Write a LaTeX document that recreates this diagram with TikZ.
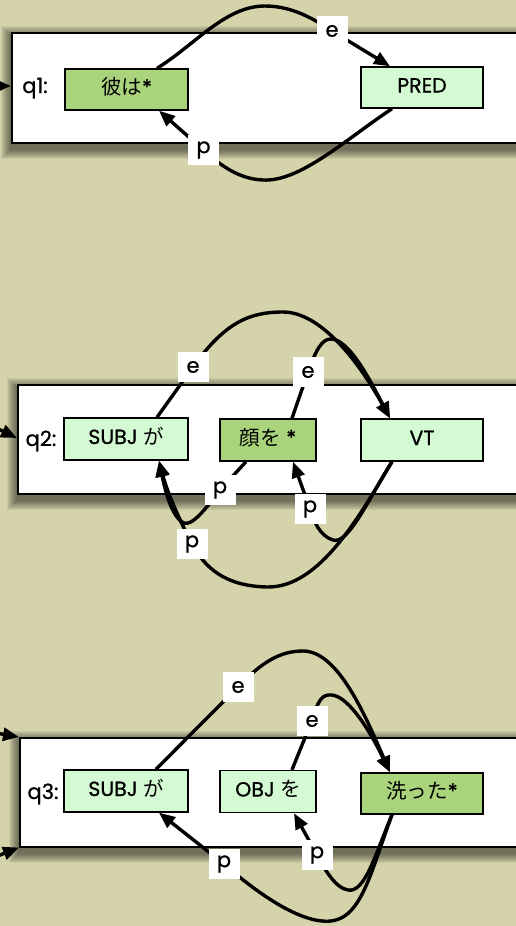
\documentclass[tikz,border=0pt]{standalone}
\usepackage{fontspec}
\setmainfont{Poppins}[FakeBold=0.9]
\newfontfamily\jp{Noto Sans CJK JP}[Scale=1.0]
\usetikzlibrary{arrows.meta,calc}
\definecolor{bg}{RGB}{213,211,170}
\definecolor{lightg}{RGB}{212,250,212}
\definecolor{darkg}{RGB}{169,212,124}
\pgfdeclarelayer{bglayer}
\pgfsetlayers{bglayer,main}
\begin{document}
\begin{tikzpicture}[x=1pt,y=-1pt,
  panel/.style={draw=black, line width=1.5pt, fill=white, rectangle, inner sep=0pt, anchor=north west},
  box/.style={draw=black, line width=1.4pt, rectangle, minimum height=41pt, inner sep=0pt,
    text height=14pt, text depth=4pt, font=\fontsize{20.5}{24}\selectfont},
  lite/.style={box, fill=lightg},
  darkbox/.style={box, fill=darkg},
  lab/.style={fill=white, rectangle, minimum width=31pt, minimum height=30pt, inner sep=0pt,
    font=\fontsize{21}{24}\selectfont},
  qlab/.style={anchor=base, font=\fontsize{21}{24}\selectfont},
  edge/.style={line width=3.4pt, -{Triangle[length=16pt,width=13pt]}},
  shadowlayer/.style={fill=black, opacity=0.06}
]
\useasboundingbox (0,0) rectangle (516,926);
\clip (0,0) rectangle (516,926);

% ---------------- panels ----------------
\node[panel, minimum width=530pt, minimum height=110pt] (pan1) at (11,32) {};
\node[panel, minimum width=530pt, minimum height=109pt] (pan2) at (17,384) {};
\node[panel, minimum width=530pt, minimum height=109pt] (pan3) at (19,737) {};
\begin{pgfonlayer}{bglayer}
\fill[bg] (0,0) rectangle (516,926);
\foreach \p in {pan1,pan2,pan3}{
  \foreach \i in {1,...,10}{
    \fill[shadowlayer] ($(\p.north west)+(-\i,4-\i)$) rectangle ($(\p.south east)+(\i,5+\i)$);
  }
}
\end{pgfonlayer}

% ---------------- panel 1 ----------------
\node[qlab] (q1) at (35,93) {q1:};
\node[darkbox, minimum width=123pt] (A1) at (126.5,89.5) {{\jp 彼は}*};
\node[lite, minimum width=122pt] (B1) at (422,87.5) {PRED};
\coordinate (in1) at (-10,86);
\draw[edge] (in1) -- ($(pan1.north west)+(0,54)$);
\coordinate (e1c) at (332,31);
\coordinate (p1c) at (203.5,150);
\draw[edge] ($(A1.north)+(30.5,0)$) .. controls (195,45) and (225,6) .. (265,6)
  .. controls (295,6) and (318,22) .. (e1c) -- ($(B1.north)+(-32,0)$);
\draw[edge] ($(B1.south)+(-30,0)$) .. controls (345,140) and (300,182) .. (263,180)
  .. controls (235,179) and (215,160) .. (p1c) -- ($(A1.south)+(32.5,0)$);
\node[lab] (E1) at (e1c) {e};
\node[lab] (P1) at (p1c) {p};

% ---------------- panel 2 ----------------
\node[qlab] (q2) at (41,446) {q2:};
\node[lite, minimum width=124pt, minimum height=42pt] (S2) at (126,439) {SUBJ {\jp が}};
\node[darkbox, minimum width=96pt, minimum height=42pt] (K2) at (268,440) {{\jp 顔を} *};
\node[lite, minimum width=122pt, minimum height=42pt] (V2) at (422,440) {VT};
\coordinate (in2) at (-10,425);
\draw[edge] (in2) -- ($(pan2.north west)+(0,54)$);
\coordinate (e2ac) at (193,367);
\coordinate (e2bc) at (308,372);
\coordinate (p2ac) at (220,490);
\coordinate (p2bc) at (310,509);
\coordinate (p2cc) at (192,544);
\draw[edge] ($(S2.north)+(31,0)$) -- (e2ac) .. controls (225,322) and (250,312) .. (283,312)
  .. controls (320,312) and (358,360) .. ($(V2.north)+(-32,0)$);
\draw[edge] ($(K2.north)+(24,0)$) -- (e2bc) .. controls (316,350) and (322,338) .. (332,339)
  .. controls (350,341) and (370,380) .. ($(V2.north)+(-32,0)$);
\draw[edge] ($(K2.south)+(-22,0)$) -- (p2ac) .. controls (205,510) and (192,526) .. (184,523)
  .. controls (172,518) and (165,490) .. ($(S2.south)+(33,0)$);
\draw[edge] ($(V2.south)+(-30,0)$) .. controls (368,500) and (348,545) .. (333,540)
  .. controls (320,536) and (314,522) .. (p2bc) -- ($(K2.south)+(25,0)$);
\draw[edge] ($(V2.south)+(-30,0)$) .. controls (360,515) and (320,588) .. (267,587)
  .. controls (225,586) and (205,568) .. (p2cc) .. controls (183,527) and (168,495) .. ($(S2.south)+(33,0)$);
\node[lab] (E2a) at (e2ac) {e};
\node[lab] (E2b) at (e2bc) {e};
\node[lab] (P2a) at (p2ac) {p};
\node[lab] (P2b) at (p2bc) {p};
\node[lab] (P2c) at (p2cc) {p};

% ---------------- panel 3 ----------------
\node[qlab] (q3) at (43,799) {q3:};
\node[lite, minimum width=124pt, minimum height=42pt] (S3) at (126,791) {SUBJ {\jp が}};
\node[lite, minimum width=96pt, minimum height=42pt] (O3) at (268,791.5) {OBJ {\jp を}};
\node[darkbox, minimum width=122pt] (W3) at (422,793.5) {{\jp 洗った}*};
\coordinate (in3a) at (-10,732);
\coordinate (in3b) at (-10,859);
\draw[edge] (in3a) -- (pan3.north west);
\draw[edge] (in3b) -- (pan3.south west);
\coordinate (e3ac) at (238,687);
\coordinate (e3bc) at (312,721);
\coordinate (p3ac) at (224,864);
\coordinate (p3bc) at (317,855);
\draw[edge] ($(S3.north)+(30,0)$) .. controls (185,740) and (215,710) .. (e3ac)
  .. controls (262,662) and (280,651) .. (303,651)
  .. controls (338,651) and (365,715) .. ($(W3.north)+(-32,0)$);
\draw[edge] ($(O3.north)+(24,0)$) .. controls (300,750) and (306,735) .. (e3bc)
  .. controls (318,700) and (322,694) .. (332,695)
  .. controls (350,697) and (372,735) .. ($(W3.north)+(-32,0)$);
\draw[edge] ($(W3.south)+(-30,0)$) .. controls (375,855) and (365,893) .. (348,890)
  .. controls (335,888) and (324,868) .. (p3bc) -- ($(O3.south)+(26,0)$);
\draw[edge] ($(W3.south)+(-30,0)$) .. controls (368,880) and (360,925) .. (322,921)
  .. controls (290,918) and (248,885) .. (p3ac) -- ($(S3.south)+(33,0)$);
\node[lab] (E3a) at (e3ac) {e};
\node[lab] (E3b) at (e3bc) {e};
\node[lab] (P3a) at (p3ac) {p};
\node[lab] (P3b) at (p3bc) {p};
\end{tikzpicture}
\end{document}
